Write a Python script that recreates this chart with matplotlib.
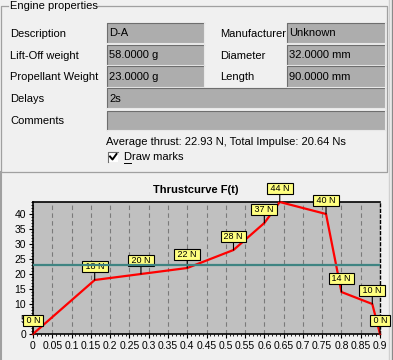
# -*- coding: utf-8 -*-
""" Engine properties dialog with thrust curve F(t) """

import matplotlib
matplotlib.use("Agg")
import matplotlib.pyplot as plt
from matplotlib.patches import Rectangle
from matplotlib.ticker import MultipleLocator, FuncFormatter

plt.rcParams['font.family'] = ['Liberation Sans', 'DejaVu Sans']

# form fields
left_labels = ["Description", "Lift-Off weight", "Propellant Weight", "Delays", "Comments"]
left_values = ["D-A", "58.0000 g", "23.0000 g", "2s", ""]
right_labels = ["Manufacturer", "Diameter", "Length"]
right_values = ["Unknown", "32.0000 mm", "90.0000 mm"]
summary = "Average thrust: 22.93 N, Total Impulse: 20.64 Ns"

# thrust curve
time_s = [0, 0.16, 0.28, 0.40, 0.52, 0.60, 0.64, 0.76, 0.80, 0.88, 0.90]
thrust_n = [0, 18, 20, 22, 28, 37, 44, 40, 14, 10, 0]
avg_thrust = 22.93

BG = '#f0f0f0'
BOX = '#adadad'
W, H = 393, 360

fig = plt.figure(figsize=(W / 100, H / 100), dpi=100, facecolor=BG)
ui = fig.add_axes([0, 0, 1, 1])
ui.set_xlim(0, W)
ui.set_ylim(H, 0)
ui.axis('off')


def edit_box(x0, y0, x1, y1, text):
    ui.add_patch(Rectangle((x0, y0), x1 - x0, y1 - y0, fc=BOX, ec='none'))
    ui.plot([x0, x0, x1], [y1, y0, y0], color='#6e6e6e', lw=0.8)
    ui.plot([x0, x1, x1], [y1, y1, y0], color='#e8e8e8', lw=0.8)
    ui.text(x0 + 2, (y0 + y1) / 2 + 0.5, text, fontsize=8, va='center', ha='left')


# group box frame
gc = '#a0a0a0'
ui.plot([8, 1, 1, 387, 387, 97], [6, 6, 172, 172, 6, 6], color=gc, lw=0.9)
ui.text(10, 6, "Engine properties", fontsize=8, va='center', ha='left')
ui.plot([1, 1], [172, H], color=gc, lw=1.5)
ui.plot([389, 389], [0, H], color='#d0d0d0', lw=1.0)
ui.plot([392, 392], [0, H], color='#8a8a8a', lw=1.0)

rows = [(23, 43), (45, 65), (66, 87), (88, 108), (111, 130)]
for i, (lab, val) in enumerate(zip(left_labels, left_values)):
    y0, y1 = rows[i]
    ui.text(10, (y0 + y1) / 2 + 1, lab, fontsize=8, va='center', ha='left')
    x1 = 204 if i < 3 else 385
    edit_box(107, y0, x1, y1, val)
for i, (lab, val) in enumerate(zip(right_labels, right_values)):
    y0, y1 = rows[i]
    ui.text(220, (y0 + y1) / 2 + 1, lab, fontsize=8, va='center', ha='left')
    edit_box(287, y0, 385, y1, val)

ui.text(106, 142, summary, fontsize=8, va='center', ha='left')

# checkbox
ui.add_patch(Rectangle((108, 152), 10, 10, fc='white', ec='none'))
ui.plot([108, 108, 118], [162, 152, 152], color='#6e6e6e', lw=0.8)
ui.plot([110, 112.5, 116.5], [156.5, 159.5, 154], color='black', lw=1.4)
ui.text(124, 157.5, "Draw marks", fontsize=8, va='center', ha='left')
ui.plot([124, 130.5], [163, 163], color='black', lw=0.7)

ui.text(196, 190, "Thrustcurve F(t)", fontsize=8, fontweight='bold',
        va='center', ha='center')

# chart
x0, x1, y0, y1 = 33, 380, 202, 334
ax = fig.add_axes([x0 / W, 1 - y1 / H, (x1 - x0) / W, (y1 - y0) / H])
ax.set_facecolor('#c0c0c0')
ax.set_xlim(0, 0.9)
ax.set_ylim(0, 44)

ax.xaxis.set_major_locator(MultipleLocator(0.05))
ax.xaxis.set_minor_locator(MultipleLocator(0.01))
ax.yaxis.set_major_locator(MultipleLocator(5))
ax.yaxis.set_minor_locator(MultipleLocator(1))
ax.xaxis.set_major_formatter(FuncFormatter(lambda v, p: ('%.2f' % v).rstrip('0').rstrip('.')))
ax.tick_params(which='major', length=3, width=0.8, labelsize=7.5, pad=2)
ax.tick_params(which='minor', length=1.5, width=0.6)
ax.grid(axis='x', which='major', color='#7a7a7a', ls=(0, (4, 3)), lw=0.8)
for s in ['left', 'bottom', 'top']:
    ax.spines[s].set_color('black')
    ax.spines[s].set_linewidth(1.2)
ax.spines['right'].set_linestyle((0, (2, 2)))
ax.spines['right'].set_linewidth(1.0)

ax.plot(time_s, thrust_n, color='red', lw=1.6, zorder=3, clip_on=False)

for t, f in zip(time_s, thrust_n):
    ax.annotate(" %d N " % f, xy=(t, f), xytext=(0, 9.5), textcoords='offset points',
                ha='center', va='center', fontsize=6.5, zorder=4,
                bbox=dict(boxstyle='square,pad=0.1', fc='#ffff80', ec='black', lw=0.8),
                arrowprops=dict(arrowstyle='-', color='black', lw=0.8,
                                shrinkA=0, shrinkB=0, relpos=(0.5, 0)),
                annotation_clip=False)

ax.axhline(avg_thrust, color='#3f8482', lw=1.6, zorder=5)

fig.savefig('out.png', dpi=100, facecolor=BG)
